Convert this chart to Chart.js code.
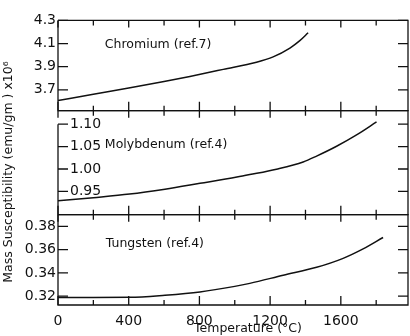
<!DOCTYPE html>
<html>
<head>
<meta charset="utf-8">
<script src="https://cdn.jsdelivr.net/npm/chart.js@4/dist/chart.umd.min.js"></script>
<style>
  html, body { margin: 0; padding: 0; background: #fff; }
  #wrap { width: 410px; height: 336px; }
</style>
</head>
<body>
<div id="wrap"><canvas id="chart" width="410" height="336"></canvas></div>
<script>
// temperatures (°C) and mass susceptibility (emu/gm x10^6)
let crTemps = [0, 200, 400, 600, 746, 935, 1123, 1217, 1312, 1368, 1415];
let crValues = [3.607, 3.662, 3.716, 3.772, 3.816, 3.877, 3.939, 3.985, 4.061, 4.125, 4.193];

let moTemps = [0, 200, 405, 605, 803, 1012, 1085, 1236, 1387, 1463, 1576, 1689, 1802];
let moValues = [0.929, 0.936, 0.944, 0.955, 0.968, 0.982, 0.9875, 0.9996, 1.0157, 1.0288, 1.0507, 1.076, 1.105];

let wTemps = [0, 200, 405, 605, 803, 1000, 1085, 1274, 1463, 1613, 1726, 1839];
let wValues = [0.3189, 0.3189, 0.3190, 0.3208, 0.3236, 0.3284, 0.331, 0.338, 0.3448, 0.3525, 0.3606, 0.3704];

let panelNames = ["Chromium (ref.7)", "Molybdenum (ref.4)", "Tungsten (ref.4)"];

let xTicks = [0, 400, 800, 1200, 1600];
let xMinorTicks = [200, 600, 1000, 1400, 1800];
let crTicks = [3.7, 3.9, 4.1, 4.3];
let moTicks = [0.95, 1.00, 1.05, 1.10];
let wTicks = [0.32, 0.34, 0.36, 0.38];

const ink = "#111";
const tickFont = { family: "DejaVu Sans", size: 14 };

function toPoints(xs, ys) {
    return xs.map((t, i) => ({ x: t, y: ys[i] }));
}

function yAxis(min, max, ticks, weight, decimals, mirror) {
    return {
        type: "linear",
        position: "left",
        stack: "panels",
        stackWeight: weight,
        min: min,
        max: max,
        grid: { display: false, drawTicks: false },
        border: { display: false },
        ticks: {
            color: ink,
            font: tickFont,
            mirror: mirror,
            autoSkip: false,
            padding: mirror ? 12 : 2,
            callback: v => v.toFixed(decimals)
        },
        afterBuildTicks: s => { s.ticks = ticks.map(v => ({ value: v })); },
        afterFit: s => { s.width = 58; }
    };
}

// frame, inward ticks, panel names and axis titles
const decorations = {
    id: "decorations",
    afterDraw(chart) {
        const ctx = chart.ctx;
        const area = chart.chartArea;
        const x = chart.scales.x;
        const panels = [
            { scale: chart.scales.yCr, ticks: crTicks, label: [265, 4.089] },
            { scale: chart.scales.yMo, ticks: moTicks, label: [265, 1.0535] },
            { scale: chart.scales.yW, ticks: wTicks, label: [270, 0.3648] }
        ];

        ctx.save();
        ctx.strokeStyle = ink;
        ctx.fillStyle = ink;
        ctx.lineWidth = 1.3;

        panels.forEach((p, i) => {
            const s = p.scale;
            const top = s.top, bottom = s.bottom;
            ctx.beginPath();
            ctx.moveTo(area.left, top);
            ctx.lineTo(area.right, top);
            ctx.lineTo(area.right, bottom);
            ctx.lineTo(area.left, bottom);
            // molybdenum's left axis starts at its top tick
            const leftTop = i === 1 ? s.getPixelForValue(moTicks[moTicks.length - 1]) : top;
            ctx.lineTo(area.left, leftTop);
            ctx.stroke();

            ctx.beginPath();
            p.ticks.forEach(v => {
                const py = s.getPixelForValue(v);
                ctx.moveTo(area.left, py);
                ctx.lineTo(area.left + 10, py);
                ctx.moveTo(area.right, py);
                ctx.lineTo(area.right - 10, py);
            });
            xTicks.forEach(v => {
                const px = x.getPixelForValue(v);
                ctx.moveTo(px, top);
                ctx.lineTo(px, top + 7);
                ctx.moveTo(px, bottom);
                ctx.lineTo(px, bottom - 9);
            });
            xMinorTicks.forEach(v => {
                const px = x.getPixelForValue(v);
                ctx.moveTo(px, top);
                ctx.lineTo(px, top + 5);
                ctx.moveTo(px, bottom);
                ctx.lineTo(px, bottom - 5);
            });
            ctx.stroke();

            ctx.font = "12.5px 'DejaVu Sans'";
            ctx.textAlign = "left";
            ctx.textBaseline = "middle";
            ctx.fillText(panelNames[i], x.getPixelForValue(p.label[0]), s.getPixelForValue(p.label[1]));
        });

        ctx.font = "12.5px 'DejaVu Sans'";
        ctx.textAlign = "center";
        ctx.textBaseline = "middle";
        ctx.fillText("Temperature (°C)", 248, 329);

        ctx.translate(9, 172);
        ctx.rotate(-Math.PI / 2);
        ctx.font = "12.5px 'DejaVu Sans'";
        ctx.fillText("Mass Susceptibility (emu/gm ) x10⁶", 0, 0);
        ctx.restore();
    }
};

function lineSet(xs, ys, axis) {
    return {
        data: toPoints(xs, ys),
        yAxisID: axis,
        borderColor: ink,
        borderWidth: 1.5,
        pointRadius: 0,
        cubicInterpolationMode: "monotone",
        fill: false
    };
}

new Chart(document.getElementById("chart"), {
    type: "line",
    data: {
        datasets: [
            lineSet(crTemps, crValues, "yCr"),
            lineSet(moTemps, moValues, "yMo"),
            lineSet(wTemps, wValues, "yW")
        ]
    },
    options: {
        responsive: false,
        animation: false,
        layout: { padding: { top: 15, right: 2, left: 0, bottom: 0 } },
        plugins: { legend: { display: false }, tooltip: { enabled: false } },
        scales: {
            x: {
                type: "linear",
                position: "bottom",
                min: 0,
                max: 1980,
                grid: { display: false, drawTicks: false },
                border: { display: false },
                ticks: { color: ink, font: tickFont, padding: 8, maxRotation: 0, autoSkip: false, callback: v => String(v) },
                afterBuildTicks: s => { s.ticks = xTicks.map(v => ({ value: v })); },
                afterFit: s => { s.height = 31; }
            },
            // the last left axis defined is stacked on top
            yW: yAxis(0.3124, 0.390, wTicks, 92, 2, false),
            yMo: yAxis(0.898, 1.130, moTicks, 106, 2, true),
            yCr: yAxis(3.52, 4.3, crTicks, 92, 1, false)
        }
    },
    plugins: [decorations]
});
</script>
</body>
</html>
